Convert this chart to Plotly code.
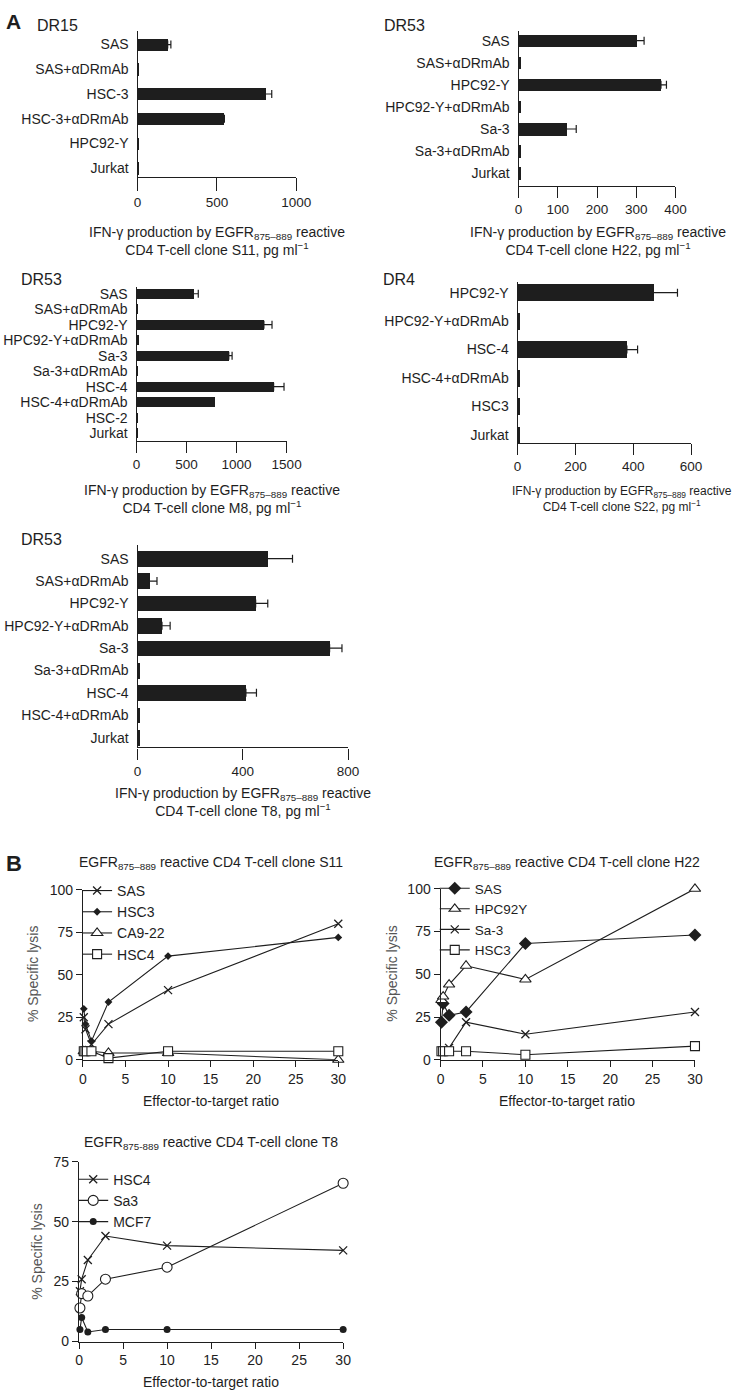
import plotly.graph_objects as go

W, H = 747, 1398
FONT = "Liberation Sans, Arial, Helvetica, sans-serif"
INK = "#1e1e1e"
GREY = "#555555"

# ---------------- Panel A data: IFN-gamma production (pg/ml) ----------------
s11_cats = ["SAS", "SAS+αDRmAb", "HSC-3", "HSC-3+αDRmAb", "HPC92-Y", "Jurkat"]
s11_vals = [190, 2, 805, 543, 3, 3]
s11_err = [20, 0, 40, 4, 0, 0]
s11_ticks = [0, 500, 1000]

h22_cats = ["SAS", "SAS+αDRmAb", "HPC92-Y", "HPC92-Y+αDRmAb", "Sa-3", "Sa-3+αDRmAb", "Jurkat"]
h22_vals = [300, 6, 363, 6, 122, 6, 6]
h22_err = [20, 0, 14, 0, 25, 0, 0]
h22_ticks = [0, 100, 200, 300, 400]

m8_cats = ["SAS", "SAS+αDRmAb", "HPC92-Y", "HPC92-Y+αDRmAb", "Sa-3", "Sa-3+αDRmAb",
           "HSC-4", "HSC-4+αDRmAb", "HSC-2", "Jurkat"]
m8_vals = [568, 5, 1273, 15, 922, 5, 1370, 779, 5, 5]
m8_err = [49, 0, 81, 0, 33, 0, 104, 0, 0, 0]
m8_ticks = [0, 500, 1000, 1500]

s22_cats = ["HPC92-Y", "HPC92-Y+αDRmAb", "HSC-4", "HSC-4+αDRmAb", "HSC3", "Jurkat"]
s22_vals = [469, 4, 378, 4, 4, 4]
s22_err = [84, 0, 37, 0, 0, 0]
s22_ticks = [0, 200, 400, 600]

t8_cats = ["SAS", "SAS+αDRmAb", "HPC92-Y", "HPC92-Y+αDRmAb", "Sa-3", "Sa-3+αDRmAb",
           "HSC-4", "HSC-4+αDRmAb", "Jurkat"]
t8_vals = [493, 44, 449, 93, 730, 4, 412, 4, 4]
t8_err = [96, 30, 46, 31, 47, 0, 40, 0, 0]
t8_ticks = [0, 400, 800]

# ---------------- Panel B data: % specific lysis ----------------
et_ratio = [0.1, 0.3, 1, 3, 10, 30]
et_ticks = [0, 5, 10, 15, 20, 25, 30]

s11_sas = [25, 18, 9, 21, 41, 80]
s11_hsc3 = [30, 21, 11, 34, 61, 72]
s11_ca922 = [5, 5, 5, 4, 4, 0]
s11_hsc4 = [5, 5, 5, 1, 5, 5]
s11_lysis_ticks = [0, 25, 50, 75, 100]

h22_sas = [22, 33, 26, 28, 68, 73]
h22_hpc92y = [35, 37, 44, 55, 47, 100]
h22_sa3 = [5, 5, 7, 22, 15, 28]
h22_hsc3 = [5, 5, 5, 5, 3, 8]
h22_lysis_ticks = [0, 25, 50, 75, 100]

t8_hsc4 = [21, 26, 34, 44, 40, 38]
t8_sa3 = [14, 20, 19, 26, 31, 66]
t8_mcf7 = [5, 10, 4, 5, 5, 5]
t8_lysis_ticks = [0, 25, 50, 75]


def dx(a, b):
    return [a / W, b / W]


def dy(top, bot):
    return [1 - bot / H, 1 - top / H]


def ann(text, x, y, size=14, xanchor="center", yanchor="middle", angle=0, color=INK):
    return dict(text=text, x=x / W, y=1 - y / H, xref="paper", yref="paper",
                xanchor=xanchor, yanchor=yanchor, showarrow=False, textangle=angle,
                font=dict(family=FONT, size=size, color=color))


fig = go.Figure()
layout = {}

bar_panels = [
    dict(cats=s11_cats, vals=s11_vals, err=s11_err, ticks=s11_ticks,
         xd=(137, 300), yd=(23, 171), pad=(0.56, 0.36), bw=0.5, tl=13),
    dict(cats=h22_cats, vals=h22_vals, err=h22_err, ticks=h22_ticks,
         xd=(528, 689), yd=(23, 180), pad=(0.45, 0.58), bw=0.57, tl=11),
    dict(cats=m8_cats, vals=m8_vals, err=m8_err, ticks=m8_ticks,
         xd=(136, 290), yd=(282, 438), pad=(0.45, 0.51), bw=0.65, tl=11),
    dict(cats=s22_cats, vals=s22_vals, err=s22_err, ticks=s22_ticks,
         xd=(527, 705), yd=(277, 440), pad=(0.38, 0.28), bw=0.6, tl=11),
    dict(cats=t8_cats, vals=t8_vals, err=t8_err, ticks=t8_ticks,
         xd=(137, 353), yd=(543, 748), pad=(0.62, 0.44), bw=0.7, tl=11),
]

for i, p in enumerate(bar_panels, start=1):
    xa = "x" if i == 1 else f"x{i}"
    ya = "y" if i == 1 else f"y{i}"
    fig.add_trace(go.Bar(x=p["vals"], y=p["cats"], orientation="h", width=p["bw"],
                         marker=dict(color=INK, line=dict(width=0)),
                         xaxis=xa, yaxis=ya, showlegend=False, hoverinfo="skip"))
    ex = [v for v, e in zip(p["vals"], p["err"]) if e > 0]
    ey = [c for c, e in zip(p["cats"], p["err"]) if e > 0]
    ee = [e for e in p["err"] if e > 0]
    fig.add_trace(go.Scatter(x=ex, y=ey, mode="markers", marker=dict(size=1, opacity=0),
                             error_x=dict(type="data", array=ee, arrayminus=[0] * len(ee),
                                          symmetric=False, color=INK, thickness=1.2, width=4),
                             xaxis=xa, yaxis=ya, showlegend=False, hoverinfo="skip",
                             cliponaxis=False))
    n = len(p["cats"])
    layout["xaxis" if i == 1 else f"xaxis{i}"] = dict(
        domain=dx(*p["xd"]), anchor=ya, range=[0, p["ticks"][-1]], tickvals=p["ticks"],
        ticks="outside", ticklen=p["tl"], tickwidth=1.2, tickcolor=INK,
        showline=True, linecolor=INK, linewidth=1.2, showgrid=False, zeroline=False,
        tickfont=dict(family=FONT, size=13.5, color=INK), fixedrange=True)
    layout["yaxis" if i == 1 else f"yaxis{i}"] = dict(
        domain=dy(*p["yd"]), anchor=xa, type="category", categoryorder="array",
        categoryarray=p["cats"], tickmode="array", tickvals=p["cats"], ticktext=p["cats"],
        range=[n - 1 + p["pad"][1], -p["pad"][0]],
        ticks="", showline=True, linecolor=INK, linewidth=1.2, showgrid=False,
        zeroline=False, ticklabelstandoff=5,
        tickfont=dict(family=FONT, size=14, color=INK), fixedrange=True)

open_style = dict(color="white", line=dict(color=INK, width=1.1))
xthin = dict(symbol="x-thin", size=8, color=INK, line=dict(color=INK, width=1.3))
line_panels = [
    dict(xd=(81, 343), yd=(892, 1064), yt=s11_lysis_ticks, legend="legend",
         series=[("SAS", s11_sas, xthin),
                 ("HSC3", s11_hsc3, dict(symbol="diamond", size=6, color=INK)),
                 ("CA9-22", s11_ca922, dict(symbol="triangle-up", size=10, **open_style)),
                 ("HSC4", s11_hsc4, dict(symbol="square", size=9, **open_style))]),
    dict(xd=(448, 709), yd=(891, 1064), yt=h22_lysis_ticks, legend="legend2",
         series=[("SAS", h22_sas, dict(symbol="diamond", size=10, color=INK)),
                 ("HPC92Y", h22_hpc92y, dict(symbol="triangle-up", size=10, **open_style)),
                 ("Sa-3", h22_sa3, xthin),
                 ("HSC3", h22_hsc3, dict(symbol="square", size=9, **open_style))]),
    dict(xd=(77, 348), yd=(1167, 1349), yt=t8_lysis_ticks, legend="legend3",
         series=[("HSC4", t8_hsc4, xthin),
                 ("Sa3", t8_sa3, dict(symbol="circle", size=10, **open_style)),
                 ("MCF7", t8_mcf7, dict(symbol="circle", size=7, color=INK))]),
]

for j, p in enumerate(line_panels, start=6):
    xa, ya = f"x{j}", f"y{j}"
    for name, vals, mk in p["series"]:
        fig.add_trace(go.Scatter(x=et_ratio, y=vals, name=name, mode="lines+markers",
                                 line=dict(color=INK, width=1.1), marker=mk,
                                 xaxis=xa, yaxis=ya, legend=p["legend"],
                                 cliponaxis=False, hoverinfo="skip"))
    layout[f"xaxis{j}"] = dict(
        domain=dx(*p["xd"]), anchor=ya, range=[0, et_ticks[-1]], tickvals=et_ticks,
        ticks="outside", ticklen=6, tickwidth=1.2, tickcolor=INK, showline=True,
        linecolor=INK, linewidth=1.2, showgrid=False, zeroline=False,
        tickfont=dict(family=FONT, size=14, color=INK), fixedrange=True)
    layout[f"yaxis{j}"] = dict(
        domain=dy(*p["yd"]), anchor=xa, range=[0, p["yt"][-1]], tickvals=p["yt"],
        ticks="outside", ticklen=6, tickwidth=1.2, tickcolor=INK, showline=True,
        linecolor=INK, linewidth=1.2, showgrid=False, zeroline=False,
        tickfont=dict(family=FONT, size=14, color=INK), fixedrange=True)

leg_common = dict(xanchor="left", yanchor="top", bgcolor="rgba(0,0,0,0)", borderwidth=0,
                  itemwidth=30, tracegroupgap=0, itemclick=False, itemdoubleclick=False,
                  xref="paper", yref="paper")
layout["legend"] = dict(x=75 / W, y=1 - 877 / H, font=dict(family=FONT, size=14, color=INK), **leg_common)
layout["legend2"] = dict(x=442 / W, y=1 - 875 / H, font=dict(family=FONT, size=13.5, color=INK), **leg_common)
layout["legend3"] = dict(x=71 / W, y=1 - 1169 / H, font=dict(family=FONT, size=14, color=INK), **leg_common)

ititle = "IFN-γ production by EGFR<sub>875–889</sub> reactive<br>CD4 T-cell clone {}, pg ml<sup>−1</sup>"
annotations = [
    ann("<b>A</b>", 0, 14, size=21, xanchor="left"),
    ann("DR15", 32, 18, size=16, xanchor="left"),
    ann("DR53", 388, 18, size=16, xanchor="left"),
    ann("DR53", 15, 275, size=16, xanchor="left"),
    ann("DR4", 387, 275, size=16, xanchor="left"),
    ann("DR53", 15, 538, size=16, xanchor="left"),
    ann(ititle.format("S11"), 219, 236),
    ann(ititle.format("H22"), 609, 236),
    ann(ititle.format("M8"), 213, 497),
    ann(ititle.format("S22"), 634, 497, size=12),
    ann(ititle.format("T8"), 245, 803),
    ann("<b>B</b>", 0, 865, size=22, xanchor="left"),
    ann("EGFR<sub>875–889</sub> reactive CD4 T-cell clone S11", 212, 865),
    ann("EGFR<sub>875–889</sub> reactive CD4 T-cell clone H22", 578, 865),
    ann("EGFR<sub>875-889</sub> reactive CD4 T-cell clone T8", 212, 1148),
    ann("Effector-to-target ratio", 212, 1106),
    ann("Effector-to-target ratio", 578, 1106),
    ann("Effector-to-target ratio", 212, 1390),
    ann("% Specific lysis", 30, 977, angle=-90, color=GREY),
    ann("% Specific lysis", 398, 977, angle=-90, color=GREY),
    ann("% Specific lysis", 33, 1258, angle=-90, color=GREY),
]

fig.update_layout(width=W, height=H, margin=dict(l=0, r=0, t=0, b=0),
                  paper_bgcolor="white", plot_bgcolor="white",
                  font=dict(family=FONT, size=14, color=INK),
                  showlegend=True, annotations=annotations, bargap=0, **layout)

fig.write_html("out.html", config={"displayModeBar": False},
               post_script="document.body.style.margin='0';document.body.style.overflow='hidden';")
